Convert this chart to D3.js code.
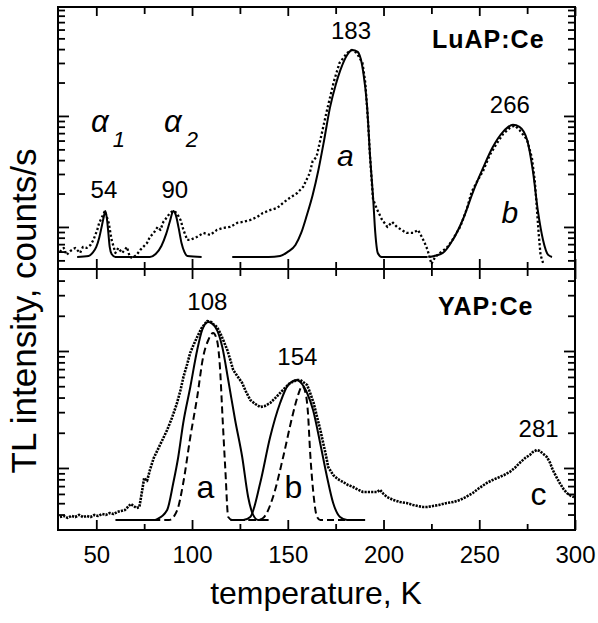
<!DOCTYPE html>
<html><head><meta charset="utf-8">
<script src="https://cdn.jsdelivr.net/npm/d3@7"></script>
<style>
body{margin:0;background:#fff;}
svg text{font-family:"Liberation Sans",Arial,Helvetica,sans-serif;fill:#000;}
</style></head><body>
<svg id="c" width="598" height="623"></svg>
<script>
// ---------------- DATA ----------------
const xMajorTicks = [50,100,150,200,250,300];
const xMinorTicks = [75,125,175,225,275];
const xTickLabels = ["50","100","150","200","250","300"];
const topMajorTicks = [1000,10000];
const topMinorTicks = [500,600,700,800,900,2000,3000,4000,5000,6000,7000,8000,9000,20000,30000,40000,50000,60000,70000,80000,90000];
const botMajorTicks = [1000,10000];
const botMinorTicks = [400,500,600,700,800,900,2000,3000,4000,5000,6000,7000,8000,9000,20000,30000,40000];

// LuAP:Ce measured TL (dots)
const luapT = [31,33,34.5,36.5,39,41.5,43,45,47,48.5,50.5,51.5,53,54.5,56.5,58,60,61.5,63.5,66,67.5,69,71,73,74.5,76.5,78,80,82,83.5,85,87,88.5,90,92,94,95.5,97.5,99,102.5,106,109.5,113,116,120,123.5,126.5,130.5,134,137,141,144.5,147.5,151,155,158,161.5,163,165,167,170.5,174,177,181,183.5,186,189,190.5,192,193,194.5,196.5,199,202,204.5,207,209.5,212,215.5,218,220,221.5,223,225,227,229.5,233,236,240,243.5,246,249,252,255.5,259,262.5,266,268.5,271,275,277.5,279,280,281,282,283.5];
const luapI = [596,647,560,608,647,583,660,647,688,764,940,1087,1231,1393,1087,764,583,647,583,660,537,526,560,621,660,718,813,883,1000,940,1109,1231,1337,1393,1337,1156,940,764,764,813,883,847,940,980,1000,1087,1109,1156,1231,1337,1423,1483,1645,1825,2025,2293,3065,3931,4272,6078,11330,20250,30020,36950,39320,36950,30020,19830,8472,4183,1787,1453,1180,1000,1109,1000,940,883,883,940,813,718,621,464,537,583,647,764,1000,1453,2067,2597,3196,4451,5593,6885,7797,8200,7480,6078,4183,2597,1546,883,560,464];

// LuAP:Ce fitted peaks (solid)
const alpha1T = [40,46,48,50,51.5,53,54,54.7,55.5,56.3,57,58,60,69];
const alpha1I = [537,548,583,660,796,1042,1256,1393,1205,883,660,571,537,537];
const alpha2T = [69,78,81,84,86.5,88.5,90.2,91.5,93,94.5,96,97.5,105];
const alpha2I = [537,537,571,674,865,1133,1393,1283,980,718,596,548,537];
const luapAT = [121,140,146,150,154,157,160,163,166,169,172,175,177.5,181,183.6,186.5,189.4,191.4,193,194.6,195.7,197,199,223];
const luapAI = [537,537,548,596,688,883,1283,1942,3262,6078,11810,19030,25970,35440,39320,37720,24920,12310,4272,1787,883,583,537,537];
const luapBT = [224,231,236.2,241.5,246.8,252,257,262.4,267.6,271,275,278,280.7,283.3,286,288];
const luapBI = [537,583,765,1173,2084,3400,5213,7177,8331,7977,6078,3196,1365,764,560,537];

// YAP:Ce measured TL (dots)
const yapT = [31,33,35,37,39,41,43,45,47,49,51,53,55,57,59,61,63,65,67,68,69.5,71,72.5,74,75,76.5,78,80,82,84.5,87,89.5,92,94,95.5,97.5,99,101,102.7,105,107.9,110,111,113,114.7,116.5,118.4,120,121.5,124,126.2,128,130.4,133,135.6,138,140.8,143.5,146,148.5,151.2,154.9,156.5,158,160.1,161.7,163.5,165.3,167,168.5,170,171.1,173.7,176,178.9,181.5,184.1,187,189.3,193,196.6,198.2,200,201.9,205,208.6,212,215.4,218,220.6,223,225.8,229,233.1,236.5,239.9,243,246.6,250,253.9,257,260.7,263,265.9,268.5,271.1,274,276.4,278,280,281.6,283.5,285.3,287,288.4,290,292,294,295.7,298,299.5];
const yapI = [381,389,374,389,381,397,381,389,381,397,389,404,397,412,404,421,429,438,473,492,473,455,464,649,821,774,961,1218,1425,1735,2113,2676,3524,4642,5995,7743,9614,11480,13170,15730,18050,17700,17010,16040,14250,12180,10200,8377,6881,5995,5327,4551,3813,3524,3321,3387,3594,3967,4376,4828,5327,5651,5651,5433,5122,4376,3594,2729,2113,1636,1266,1020,871,805,759,715,688,649,623,623,623,649,599,565,533,512,502,483,473,464,464,473,483,502,512,533,565,611,674,744,790,838,871,924,1000,1104,1218,1292,1370,1425,1397,1317,1242,1104,961,854,744,661,611,576,565];

// YAP:Ce fitted peaks: solid and dashed
const yapASolidT = [60,80,81.8,87,90.2,92.8,95.4,99.1,102.7,105.3,108.4,112.1,115.8,118.9,122.5,126.2,129.3,131.9,134.5,140];
const yapASolidI = [359,359,366,438,744,1242,2425,4924,10200,15120,17700,16040,10820,5651,2572,1242,565,397,359,359];
const yapADashT = [74,88,92.3,95.4,99.1,102.7,105.8,108.5,111,113,114.5,116,117.4,118.9,121,131];
const yapADashI = [359,359,438,744,1840,4045,8886,12420,14250,12420,7593,2572,961,381,359,359];
const yapBSolidT = [120,126.7,130.4,135.6,140.8,146,150.2,154.9,156.5,160.1,163.2,166.9,170.5,173.7,177.3,181,190.4];
const yapBSolidI = [359,359,381,744,1840,3594,5122,5651,5433,4376,3131,1636,838,502,381,359,359];
const yapBDashT = [124,134,137.1,142.3,147.6,152.3,155.4,157.5,159.5,160.5,161.7,163.2,165.3,167,189];
const yapBDashI = [359,359,374,565,1242,2729,4207,5023,4207,3010,1344,649,381,359,359];

// ---------------- LAYOUT ----------------
const PL=58, PR=575, PT=7, PM=269, PB=530;
const svg = d3.select("#c");
const x = d3.scaleLinear().domain([30,300]).range([PL,PR]);
const yTop = d3.scaleLog().domain([418,95800]).range([PM,PT]);
const yBot = d3.scaleLog().domain([295,50230]).range([PB,PM]);

const zip = (a,b)=>a.map((v,i)=>[v,b[i]]);
function drawLine(scaleY, T, I, opts){
  const line = d3.line().x(d=>x(d[0])).y(d=>scaleY(d[1])).curve(opts.curve||d3.curveLinear);
  svg.append("path").datum(zip(T,I)).attr("d",line)
    .attr("fill","none").attr("stroke","#000")
    .attr("stroke-width",opts.w||2)
    .attr("stroke-dasharray",opts.dash||null)
    .attr("stroke-linecap","butt")
    .attr("stroke-linejoin","round");
}

// data dots
drawLine(yTop, luapT, luapI, {w:2.3, dash:"2.2,2.3"});
drawLine(yBot, yapT, yapI, {w:2.6, dash:"2.2,1.1"});

// fits
const mono = d3.curveMonotoneX;
drawLine(yTop, alpha1T, alpha1I, {curve:mono, w:2});
drawLine(yTop, alpha2T, alpha2I, {curve:mono, w:2});
drawLine(yTop, luapAT, luapAI, {curve:mono, w:2});
drawLine(yTop, luapBT, luapBI, {curve:mono, w:2});
drawLine(yBot, yapASolidT, yapASolidI, {curve:mono, w:2});
drawLine(yBot, yapBSolidT, yapBSolidI, {curve:mono, w:2});
drawLine(yBot, yapADashT, yapADashI, {curve:mono, w:2, dash:"7,4"});
drawLine(yBot, yapBDashT, yapBDashI, {curve:mono, w:2, dash:"7,4"});

// axes (ticks inward)
function styleAxis(g){
  g.select(".domain").remove();
  g.selectAll(".tick line").attr("stroke","#000").attr("stroke-width",1.8);
}
const noLab = ()=>"";
function xTicks(yPos, gen, vals, len){
  svg.append("g").attr("transform",`translate(0,${yPos})`)
    .call(gen(x).tickValues(vals).tickSizeInner(-len).tickSizeOuter(0).tickFormat(noLab))
    .call(styleAxis);
}
xTicks(PT, d3.axisTop, xMajorTicks, 9);
xTicks(PT, d3.axisTop, xMinorTicks, 7);
xTicks(PM, d3.axisBottom, xMajorTicks, 10);
xTicks(PM, d3.axisBottom, xMinorTicks, 7);
xTicks(PM, d3.axisTop, xMajorTicks, 10);
xTicks(PM, d3.axisTop, xMinorTicks, 7);
svg.append("g").attr("transform",`translate(0,${PB})`)
  .call(d3.axisBottom(x).tickValues(xMajorTicks).tickSizeInner(-10).tickSizeOuter(0).tickPadding(16)
    .tickFormat((d,i)=>xTickLabels[i]))
  .call(styleAxis)
  .call(g=>g.selectAll("text").attr("font-size",24).attr("font-family","Liberation Sans, Arial, sans-serif").attr("fill","#000"));
xTicks(PB, d3.axisBottom, xMinorTicks, 6);

function yTicks(scale, xPos, gen, vals, len){
  svg.append("g").attr("transform",`translate(${xPos},0)`)
    .call(gen(scale).tickValues(vals).tickSizeInner(-len).tickSizeOuter(0).tickFormat(noLab))
    .call(styleAxis);
}
yTicks(yTop, PL, d3.axisLeft, topMajorTicks, 11);
yTicks(yTop, PL, d3.axisLeft, topMinorTicks, 7);
yTicks(yTop, PR, d3.axisRight, topMajorTicks, 11);
yTicks(yTop, PR, d3.axisRight, topMinorTicks, 7);
yTicks(yBot, PL, d3.axisLeft, botMajorTicks, 11);
yTicks(yBot, PL, d3.axisLeft, botMinorTicks, 7);
yTicks(yBot, PR, d3.axisRight, botMajorTicks, 11);
yTicks(yBot, PR, d3.axisRight, botMinorTicks, 7);

// frame
svg.append("rect").attr("x",PL).attr("y",PT).attr("width",PR-PL).attr("height",PB-PT)
  .attr("fill","none").attr("stroke","#000").attr("stroke-width",2);
svg.append("line").attr("x1",PL).attr("x2",PR).attr("y1",PM).attr("y2",PM)
  .attr("stroke","#000").attr("stroke-width",2);

// text labels
function label(t, xp, yp, size, opts={}){
  return svg.append("text").attr("x",xp).attr("y",yp).attr("font-size",size)
    .attr("text-anchor",opts.anchor||"middle")
    .attr("font-style",opts.italic?"italic":null)
    .attr("font-weight",opts.bold?"bold":null)
    .attr("letter-spacing",opts.ls||null)
    .text(t);
}
function alphaLabel(xp, sub){
  const t = svg.append("text").attr("x",xp).attr("y",132).attr("font-size",31).attr("font-style","italic");
  t.append("tspan").text("\u03B1");
  t.append("tspan").attr("font-size",22).attr("dx",4).attr("dy",15).text(sub);
}
alphaLabel(91,"1");
alphaLabel(164,"2");
label("54", x(54), 198, 24);
label("90", x(91), 198, 24);
label("183", x(183), 39, 24);
label("266", x(266), 113, 24);
label("a", x(180), 166, 30, {italic:true});
label("b", x(266), 223, 30, {italic:true});
label("LuAP:Ce", 432, 48, 25, {anchor:"start", bold:true, ls:1});
label("108", x(108), 310, 24);
label("154", x(155), 365, 24);
label("281", x(281), 437, 24);
label("a", x(107), 498, 32);
label("b", x(153), 498, 32);
label("c", x(281), 505, 32);
label("YAP:Ce", 438, 315, 25, {anchor:"start", bold:true, ls:1});

// axis titles
label("temperature, K", 316, 604, 32);
svg.append("text").attr("transform","translate(36,311) rotate(-90)")
  .attr("text-anchor","middle").attr("font-size",35).text("TL intensity, counts/s");
</script>
</body></html>
